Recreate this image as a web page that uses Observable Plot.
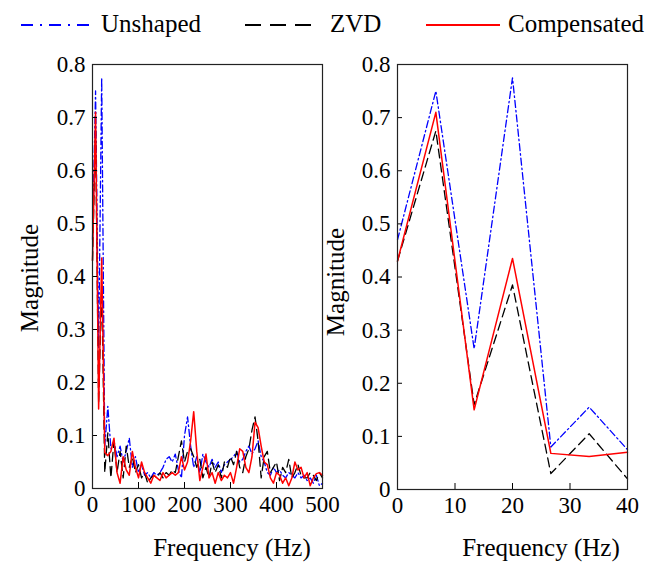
<!DOCTYPE html>
<html>
<head>
<meta charset="utf-8">
<script src="https://cdn.jsdelivr.net/npm/d3@7"></script>
<script src="https://cdn.jsdelivr.net/npm/@observablehq/plot@0.6"></script>
<style>
  html, body { margin: 0; padding: 0; background: #fff; }
  #root { position: relative; width: 662px; height: 564px; overflow: hidden; font-family: "Liberation Serif", "Times New Roman", serif; }
  #root > svg, #root > div { position: absolute; top: 0; }
  #root text { font-family: "Liberation Serif", "Times New Roman", serif; }
</style>
</head>
<body>
<div id="root"></div>
<script>
// ---------- data ----------
const seriesNames = ["Unshaped", "ZVD", "Compensated"];
const freq = [0, 6.67, 13.33, 20, 26.67, 33.33, 40, 46.67, 53.33, 60, 66.67, 73.33, 80, 86.67, 93.33, 100,
  106.67, 113.33, 120, 126.67, 133.33, 140, 146.67, 153.33, 160, 166.67, 173.33, 180, 186.67, 193.33, 200,
  206.67, 213.33, 220, 226.67, 233.33, 240, 246.67, 253.33, 260, 266.67, 273.33, 280, 286.67, 293.33, 300,
  306.67, 313.33, 320, 326.67, 333.33, 340, 346.67, 353.33, 360, 366.67, 373.33, 380, 386.67, 393.33, 400,
  406.67, 413.33, 420, 426.67, 433.33, 440, 446.67, 453.33, 460, 466.67, 473.33, 480, 486.67, 493.33, 500];
const unshaped = [0.47, 0.75, 0.265, 0.775, 0.08, 0.155, 0.075, 0.09, 0.06, 0.08, 0.05, 0.07, 0.095, 0.04, 0.06, 0.03,
  0.045, 0.025, 0.03, 0.02, 0.03, 0.025, 0.03, 0.04, 0.055, 0.06, 0.05, 0.065, 0.035, 0.02, 0.1,
  0.135, 0.08, 0.04, 0.06, 0.03, 0.065, 0.05, 0.04, 0.055, 0.04, 0.05, 0.03, 0.045, 0.05, 0.055,
  0.06, 0.07, 0.05, 0.055, 0.07, 0.08, 0.065, 0.075, 0.09, 0.06, 0.05, 0.03, 0.025, 0.04, 0.03,
  0.035, 0.025, 0.02, 0.03, 0.025, 0.02, 0.03, 0.02, 0.025, 0.015, 0.02, 0.01, 0.025, 0.005, 0.01];
const zvd = [0.43, 0.675, 0.16, 0.385, 0.03, 0.105, 0.02, 0.09, 0.03, 0.07, 0.02, 0.08, 0.04, 0.06, 0.03, 0.045,
  0.02, 0.03, 0.01, 0.02, 0.025, 0.02, 0.03, 0.02, 0.03, 0.025, 0.035, 0.03, 0.06, 0.09, 0.05,
  0.07, 0.075, 0.06, 0.04, 0.055, 0.02, 0.04, 0.02, 0.05, 0.03, 0.045, 0.02, 0.05, 0.04, 0.06,
  0.045, 0.07, 0.04, 0.03, 0.06, 0.075, 0.11, 0.135, 0.09, 0.02, 0.06, 0.07, 0.03, 0.04, 0.05,
  0.015, 0.04, 0.03, 0.055, 0.02, 0.03, 0.045, 0.025, 0.02, 0.02, 0.03, 0.025, 0.015, 0.03, 0.02];
const compensated = [0.43, 0.71, 0.15, 0.435, 0.068, 0.062, 0.07, 0.095, 0.03, 0.01, 0.06, 0.035, 0.025, 0.07, 0.04, 0.02,
  0.05, 0.03, 0.02, 0.01, 0.025, 0.02, 0.015, 0.03, 0.02, 0.025, 0.03, 0.025, 0.03, 0.06, 0.035,
  0.05, 0.09, 0.145, 0.07, 0.015, 0.04, 0.065, 0.02, 0.03, 0.01, 0.03, 0.015, 0.025, 0.02, 0.03,
  0.01, 0.04, 0.075, 0.07, 0.04, 0.03, 0.06, 0.125, 0.115, 0.08, 0.05, 0.045, 0.02, 0.01, 0.03,
  0.025, 0.01, 0.02, 0.005, 0.02, 0.05, 0.035, 0.04, 0.02, 0.03, 0.005, 0.02, 0.028, 0.03, 0.025];
const yTicks = [0, 0.1, 0.2, 0.3, 0.4, 0.5, 0.6, 0.7, 0.8];
const leftXTicks = [0, 100, 200, 300, 400, 500];
const rightXTicks = [0, 10, 20, 30, 40];
const zoomMaxFreq = 40;
const xLabel = "Frequency (Hz)";
const yLabel = "Magnitude";

// ---------- styles ----------
const styles = {
  Unshaped: { stroke: "#0000ff", dash: "7,3,1.5,3", width: 1.3, legendDash: "12,7,2,7" },
  ZVD: { stroke: "#000000", dash: "9,5", width: 1.3, legendDash: "16,9" },
  Compensated: { stroke: "#ff0000", dash: null, width: 1.5, legendDash: null }
};

const values = { Unshaped: unshaped, ZVD: zvd, Compensated: compensated };
const rows = [];
for (const s of seriesNames) freq.forEach((f, i) => rows.push({ s, f, v: values[s][i] }));

const FONT = '"Liberation Serif", "Times New Roman", serif';

function panel({ data, xDomain, xTicks, width, marginLeft, marginRight, marginTop, marginBottom, height }) {
  const innerH = height - marginTop - marginBottom;
  const innerW = width - marginLeft - marginRight;
  const marks = [];
  for (const s of seriesNames) {
    const st = styles[s];
    marks.push(Plot.line(data.filter(d => d.s === s), {
      x: "f", y: "v", stroke: st.stroke, strokeWidth: st.width,
      strokeDasharray: st.dash || undefined
    }));
  }
  marks.push(Plot.tickX(xTicks, { x: d => d, stroke: "black", strokeWidth: 1, insetTop: innerH - 6 }));
  marks.push(Plot.tickY(yTicks, { y: d => d, stroke: "black", strokeWidth: 1, insetRight: innerW - 5 }));
  marks.push(Plot.frame({ stroke: "#222", strokeWidth: 1.2 }));
  marks.push(Plot.axisX(xTicks, { tickSize: 0, tickPadding: 7, label: null, tickFormat: d => String(d), fontSize: 23 }));
  marks.push(Plot.axisY(yTicks, { tickSize: 0, tickPadding: 7, label: null, tickFormat: d => String(d), fontSize: 23 }));
  return Plot.plot({
    width, height, marginLeft, marginRight, marginTop, marginBottom,
    x: { domain: xDomain },
    y: { domain: [0, 0.8] },
    style: { fontFamily: FONT, fontSize: "23px", background: "transparent", overflow: "visible", color: "black" },
    marks
  });
}

const root = document.getElementById("root");

const left = panel({ data: rows, xDomain: [0, 500], xTicks: leftXTicks, width: 331, height: 564,
  marginLeft: 92, marginRight: 9, marginTop: 64, marginBottom: 76 });
left.style.left = "0px";
root.appendChild(left);

const right = panel({ data: rows.filter(d => d.f <= zoomMaxFreq), xDomain: [0, zoomMaxFreq], xTicks: rightXTicks,
  width: 331, height: 564, marginLeft: 66, marginRight: 35, marginTop: 64, marginBottom: 75 });
right.style.left = "331px";
root.appendChild(right);

// ---------- legend and axis titles (real text) ----------
const ov = d3.select(root).append("svg")
  .attr("width", 662).attr("height", 564)
  .style("left", "0px").style("pointer-events", "none")
  .attr("font-family", FONT);

const legendItems = [
  { s: "Unshaped", x1: 21, x2: 96, tx: 101 },
  { s: "ZVD", x1: 245, x2: 316, tx: 330 },
  { s: "Compensated", x1: 426, x2: 500, tx: 508 }
];
for (const it of legendItems) {
  const st = styles[it.s];
  const ln = ov.append("line").attr("x1", it.x1).attr("x2", it.x2).attr("y1", 25).attr("y2", 25)
    .attr("stroke", st.stroke).attr("stroke-width", 2);
  if (st.legendDash) ln.attr("stroke-dasharray", st.legendDash);
  ov.append("text").attr("x", it.tx).attr("y", 32).attr("font-size", 25).attr("fill", "black").text(it.s);
}

ov.append("text").attr("x", 232).attr("y", 556).attr("text-anchor", "middle").attr("font-size", 25).text(xLabel);
ov.append("text").attr("x", 541).attr("y", 556).attr("text-anchor", "middle").attr("font-size", 25).text(xLabel);
ov.append("text").attr("transform", "translate(38,278) rotate(-90)").attr("text-anchor", "middle").attr("font-size", 25).text(yLabel);
ov.append("text").attr("transform", "translate(344,282) rotate(-90)").attr("text-anchor", "middle").attr("font-size", 25).text(yLabel);
</script>
</body>
</html>
